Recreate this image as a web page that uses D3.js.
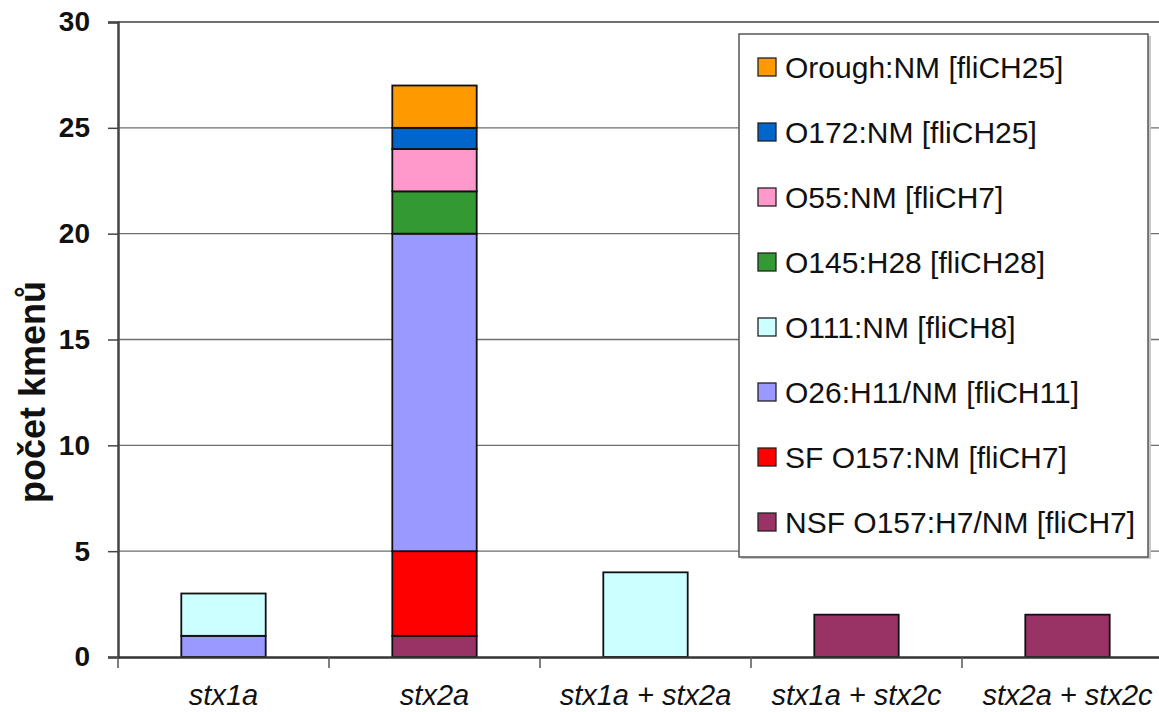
<!DOCTYPE html>
<html><head><meta charset="utf-8">
<script src="https://cdn.jsdelivr.net/npm/d3@7"></script>
<style>body{margin:0;background:#fff;} svg{display:block;}</style>
</head><body>
<svg id="chart" width="1159" height="712"></svg>
<script>
const categories = ["stx1a", "stx2a", "stx1a + stx2a", "stx1a + stx2c", "stx2a + stx2c"];
// series listed bottom-to-top in stack order
const seriesNames = ["NSF O157:H7/NM [fliCH7]", "SF O157:NM [fliCH7]", "O26:H11/NM [fliCH11]", "O111:NM [fliCH8]", "O145:H28 [fliCH28]", "O55:NM [fliCH7]", "O172:NM [fliCH25]", "Orough:NM [fliCH25]"];
const seriesColors = ["#993366", "#FF0000", "#9999FF", "#CCFFFF", "#339933", "#FF99CC", "#0066CC", "#FF9900"];
const nsf    = [0, 1, 0, 2, 2];
const sf     = [0, 4, 0, 0, 0];
const o26    = [1, 15, 0, 0, 0];
const o111   = [2, 0, 4, 0, 0];
const o145   = [0, 2, 0, 0, 0];
const o55    = [0, 2, 0, 0, 0];
const o172   = [0, 1, 0, 0, 0];
const orough = [0, 2, 0, 0, 0];
const yTicks = [0, 5, 10, 15, 20, 25, 30];
const yTitle = "počet kmenů";

const seriesValues = [nsf, sf, o26, o111, o145, o55, o172, orough];
const table = categories.map((c, i) => {
  const row = {cat: c};
  seriesNames.forEach((s, j) => row[s] = seriesValues[j][i]);
  return row;
});

const FONT = "Liberation Sans, Arial, sans-serif";
const svg = d3.select("#chart");
const mLeft = 118, mTop = 22, mBottom = 657, bandW = 211;
const x = d3.scaleBand().domain(categories).range([mLeft, mLeft + bandW * categories.length]).paddingInner(0.6).paddingOuter(0.3);
const y = d3.scaleLinear().domain([0, 30]).range([mBottom, mTop]);
const color = d3.scaleOrdinal().domain(seriesNames).range(seriesColors);

// gridlines
svg.append("g").selectAll("line").data(yTicks.filter(t => t > 0)).join("line")
  .attr("x1", mLeft).attr("x2", 1159).attr("y1", d => y(d)).attr("y2", d => y(d))
  .attr("stroke", "#6e6e6e").attr("stroke-width", d => d === 30 ? 2.2 : 1.3);

// stacked bars
const stack = d3.stack().keys(seriesNames);
const stacked = stack(table);
svg.append("g").selectAll("g").data(stacked).join("g")
  .attr("fill", d => color(d.key))
  .selectAll("rect").data(d => d.filter(p => p[1] - p[0] > 0)).join("rect")
  .attr("x", d => x(d.data.cat))
  .attr("width", x.bandwidth())
  .attr("y", d => y(d[1]))
  .attr("height", d => y(d[0]) - y(d[1]))
  .attr("stroke", "#111").attr("stroke-width", 1.8);

// y axis
const yAxis = d3.axisLeft(y).tickValues(yTicks).tickSize(10).tickPadding(18);
const gy = svg.append("g").attr("transform", `translate(${mLeft},0)`).call(yAxis);
gy.select(".domain").attr("stroke", "#444").attr("stroke-width", 2.5);
gy.selectAll(".tick line").attr("stroke", "#444").attr("stroke-width", 1.5);
gy.selectAll(".tick text").attr("font-family", FONT)
  .attr("font-size", 28).attr("font-weight", "bold").attr("fill", "#111");

// x axis
const xAxis = d3.axisBottom(x).tickSize(0).tickPadding(0);
const gx = svg.append("g").attr("transform", `translate(0,${mBottom})`).call(xAxis);
gx.select(".domain").attr("stroke", "#333").attr("stroke-width", 2.5);
gx.selectAll(".tick text").attr("font-family", FONT)
  .attr("font-size", 29).attr("font-style", "italic").attr("fill", "#111")
  .attr("y", 48).attr("dy", 0);
// category separators
const seps = categories.map(c => x(c) - x.step() * x.paddingOuter()).concat([x.range()[1]]);
svg.append("g").selectAll("line").data(seps).join("line")
  .attr("x1", d => d).attr("x2", d => d).attr("y1", mBottom).attr("y2", mBottom + 11)
  .attr("stroke", "#555").attr("stroke-width", 1.5);

// y title
svg.append("text").attr("transform", "translate(45,392) rotate(-90)")
  .attr("text-anchor", "middle").attr("font-family", FONT)
  .attr("font-size", 36).attr("font-weight", "bold").attr("fill", "#111").text(yTitle);

// legend
const lg = svg.append("g");
lg.append("rect").attr("x", 741).attr("y", 36).attr("width", 410).attr("height", 523).attr("fill", "#c8c8c8");
lg.append("rect").attr("x", 739).attr("y", 34).attr("width", 409).attr("height", 523)
  .attr("fill", "#fff").attr("stroke", "#555").attr("stroke-width", 1.5);
const legendOrder = seriesNames.slice().reverse();
const items = lg.selectAll("g.item").data(legendOrder).join("g").attr("class", "item")
  .attr("transform", (d, i) => `translate(758,${67 + i * 65})`);
items.append("rect").attr("x", 0).attr("y", -9).attr("width", 18).attr("height", 18)
  .attr("fill", d => color(d)).attr("stroke", "#222").attr("stroke-width", 1.3);
items.append("text").attr("x", 27).attr("y", 0).attr("dy", "0.36em")
  .attr("font-family", FONT).attr("font-size", 30)
  .attr("fill", "#111").text(d => d);
</script>
</body></html>
